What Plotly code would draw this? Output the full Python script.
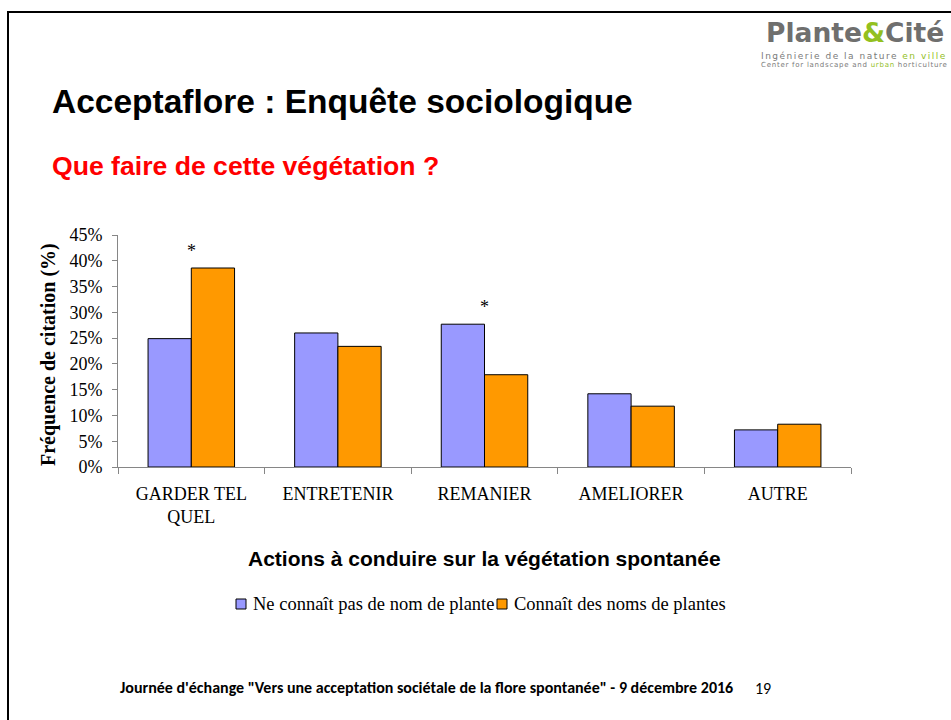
import plotly.graph_objects as go

# ---- data ----
categories = ["GARDER TEL QUEL", "ENTRETENIR", "REMANIER", "AMELIORER", "AUTRE"]
tick_labels = ["GARDER TEL<br>QUEL", "ENTRETENIR", "REMANIER", "AMELIORER", "AUTRE"]
no_name = [24.9, 26.0, 27.7, 14.2, 7.2]      # Ne connaît pas de nom de plante
knows_names = [38.6, 23.4, 17.9, 11.8, 8.3]  # Connaît des noms de plantes
significant = [True, False, True, False, False]
series_names = ["Ne connaît pas de nom de plante", "Connaît des noms de plantes"]
y_ticks = [0, 5, 10, 15, 20, 25, 30, 35, 40, 45]
y_tick_text = [f"{v}%" for v in y_ticks]

W, H = 951, 720
def px(x):
    return x / W
def py(y):
    # target screen pixel -> paper fraction (page is captured with a 10px top offset, 700px tall)
    return 1 - (y - 10) / 700

SERIF = "Liberation Serif, Times New Roman, serif"
SANS = "Liberation Sans, Arial, sans-serif"
NARROW = "Liberation Sans Narrow, Carlito, Liberation Sans, sans-serif"
BLUE = "#9999FF"
ORANGE = "#FF9900"
GRAY_AXIS = "#868686"
colors = [BLUE, ORANGE]

fig = go.Figure()
for name, vals, col in zip(series_names, [no_name, knows_names], colors):
    fig.add_trace(go.Bar(
        x=categories, y=vals, name=name,
        marker=dict(color=col, line=dict(color="black", width=1)),
    ))

annotations = []
for c, a, b, s in zip(categories, no_name, knows_names, significant):
    if s:
        annotations.append(dict(
            x=c, y=max(a, b), xref="x", yref="y", text="*", showarrow=False,
            yanchor="middle", yshift=17, font=dict(family=SERIF, size=18, color="black"),
        ))

annotations += [
    dict(x=px(50), y=py(101), xref="paper", yref="paper", xanchor="left", yanchor="middle",
         text="<b>Acceptaflore : Enquête sociologique</b>", showarrow=False,
         font=dict(family=SANS, size=33.5, color="black")),
    dict(x=px(50), y=py(166), xref="paper", yref="paper", xanchor="left", yanchor="middle",
         text="<b>Que faire de cette végétation ?</b>", showarrow=False,
         font=dict(family=SANS, size=26.6, color="#FF0000")),
    dict(x=px(484), y=py(558), xref="paper", yref="paper", xanchor="center", yanchor="middle",
         text="<b>Actions à conduire sur la végétation spontanée</b>", showarrow=False,
         font=dict(family=SANS, size=21, color="black")),
    dict(x=px(48), y=py(355), xref="paper", yref="paper", xanchor="center", yanchor="middle",
         text="<b>Fréquence de citation (%)</b>", showarrow=False, textangle=-90,
         font=dict(family=SERIF, size=20, color="black")),
    dict(x=px(118), y=py(687), xref="paper", yref="paper", xanchor="left", yanchor="middle",
         text="<b>Journée d'échange \"Vers une acceptation sociétale de la flore spontanée\" - 9 décembre 2016</b>",
         showarrow=False, font=dict(family=NARROW, size=16, color="black")),
    dict(x=px(763), y=py(688), xref="paper", yref="paper", xanchor="center", yanchor="middle",
         text="19", showarrow=False, font=dict(family=NARROW, size=16, color="black")),
    # logo
    dict(x=px(946), y=py(33), xref="paper", yref="paper", xanchor="right", yanchor="middle",
         text="<b><span style='color:#6f6f6e'>Plante</span><span style='color:#93c01f'>&amp;</span><span style='color:#6f6f6e'>Cité</span></b>",
         showarrow=False, font=dict(family="DejaVu Sans, sans-serif", size=26.5)),
    dict(x=px(950), y=py(60), xref="paper", yref="paper", xanchor="right", yanchor="middle",
         align="left",
         text=("<span style='font-size:9px;letter-spacing:1.5px;color:#7a7a7a'>Ingénierie de la nature "
               "<span style='color:#93c01f'>en ville</span></span><br>"
               "<span style='font-size:7px;letter-spacing:0.75px;color:#7a7a7a'>Center for landscape and "
               "<span style='color:#93c01f'>urban</span> horticulture</span>"),
         showarrow=False, font=dict(family="DejaVu Sans, sans-serif", size=6, color="#7a7a7a")),
]

shapes = [
    dict(type="rect", xref="paper", yref="paper", x0=px(8), y0=py(12), x1=1.02, y1=-0.05,
         line=dict(color="black", width=2), fillcolor="rgba(0,0,0,0)", layer="above"),
]

# legend drawn as keys + labels
legend_keys_x = [236, 497]
legend_text_x = [251, 512]
for name, col, kx, tx in zip(series_names, colors, legend_keys_x, legend_text_x):
    shapes.append(dict(type="rect", xref="paper", yref="paper",
                       x0=px(kx), x1=px(kx + 10), y0=py(609), y1=py(599),
                       line=dict(color="black", width=1), fillcolor=col))
    annotations.append(dict(x=px(tx), y=py(604), xref="paper", yref="paper",
                            xanchor="left", yanchor="middle", text=name, showarrow=False,
                            font=dict(family=SERIF, size=18.5, color="black")))

fig.update_layout(
    width=W, height=H,
    margin=dict(l=0, r=0, t=0, b=0),
    paper_bgcolor="white", plot_bgcolor="white",
    barmode="group", bargap=0.41, bargroupgap=0,
    showlegend=False,
    xaxis=dict(
        domain=[px(118), px(851)], type="category",
        tickmode="array", tickvals=categories, ticktext=tick_labels,
        tickson="boundaries", ticks="outside", ticklen=6, tickcolor=GRAY_AXIS,
        ticklabelstandoff=10,
        showline=True, linecolor=GRAY_AXIS, linewidth=1, showgrid=False,
        tickfont=dict(family=SERIF, size=18, color="black"),
    ),
    yaxis=dict(
        domain=[py(467), py(235)], range=[0, 45],
        tickmode="array", tickvals=y_ticks, ticktext=y_tick_text,
        ticks="outside", ticklen=5, tickcolor=GRAY_AXIS, ticklabelstandoff=6,
        showline=True, linecolor=GRAY_AXIS, linewidth=1, showgrid=False, zeroline=False,
        tickfont=dict(family=SERIF, size=18, color="black"),
    ),
    annotations=annotations,
    shapes=shapes,
)

fig.write_html("out.html", config={"displayModeBar": False},
               post_script="document.body.style.margin='0';document.body.style.overflow='hidden';")
